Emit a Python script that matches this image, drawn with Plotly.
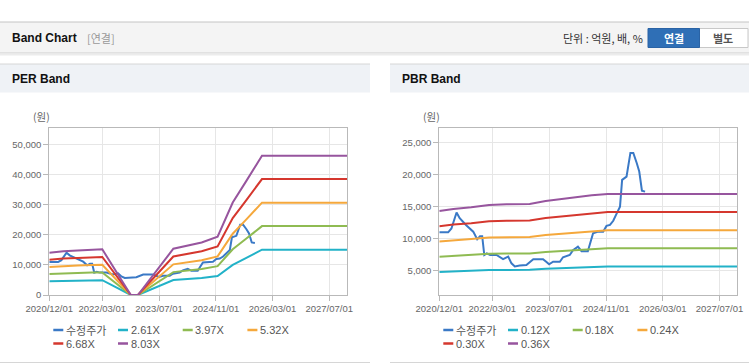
import plotly.graph_objects as go

W, H = 749, 364

# ---------------- data ----------------
price_label = "수정주가"
price_dates = ["2020-12-01", "2021-02-15", "2021-03-15", "2021-04-28", "2021-05-25", "2021-07-20",
               "2021-09-18", "2021-10-22", "2021-11-15", "2021-12-04", "2021-12-22", "2022-01-12",
               "2022-02-10", "2022-04-06", "2022-06-01", "2022-07-15", "2022-08-12", "2022-09-10",
               "2022-10-22", "2022-12-18", "2023-02-15", "2023-03-28", "2023-05-10", "2023-06-06",
               "2023-07-01", "2023-08-04", "2023-10-01", "2023-10-28", "2023-12-25", "2024-01-22",
               "2024-03-04", "2024-04-04", "2024-05-28", "2024-07-12", "2024-08-25", "2024-10-06",
               "2024-11-04", "2024-12-04", "2025-01-01", "2025-02-01", "2025-02-28", "2025-03-18",
               "2025-04-25", "2025-05-28", "2025-06-22", "2025-07-22", "2025-08-12", "2025-09-04",
               "2025-10-01"]
price_values = [11000, 11000, 11600, 14100, 13200, 12100, 11100, 9900, 10400, 10400, 7450, 7700,
                7450, 7450, 6800, 7200, 6150, 5650, 5800, 5900, 6800, 6800, 6800, 6400,
                6000, 6400, 6400, 7100, 7450, 8200, 8750, 8050, 8050, 10850, 11100, 11100,
                12000, 12150, 12800, 14000, 15000, 19200, 19700, 23400, 23400, 21800, 20500, 17500,
                17350]

per_dates = ["2020-12-01", "2021-04-01", "2021-08-01", "2021-12-01", "2022-03-01", "2022-11-01",
             "2023-01-01", "2023-11-01", "2024-03-01", "2024-07-01", "2024-11-15", "2025-03-25",
             "2025-07-20", "2025-10-15", "2025-12-01", "2027-12-01"]
per_eps = [1756, 1818, 1843, 1880, 1893, 0, 0, 1918, 2042, 2179, 2416, 3836, 4732, 5417, 5778, 5778]
per_multiples = [2.61, 3.97, 5.32, 6.68, 8.03]
per_labels = ["2.61X", "3.97X", "5.32X", "6.68X", "8.03X"]

pbr_dates = ["2020-12-01", "2021-04-01", "2021-09-01", "2022-02-01", "2022-07-01", "2023-01-15",
             "2023-06-01", "2023-11-01", "2024-03-01", "2024-07-01", "2024-11-15", "2027-12-01"]
pbr_bps = [39800, 40700, 41400, 42400, 42700, 42800, 44100, 45000, 46000, 46600, 47200, 47200]
pbr_multiples = [0.12, 0.18, 0.24, 0.30, 0.36]
pbr_labels = ["0.12X", "0.18X", "0.24X", "0.30X", "0.36X"]

x_tickvals = ["2020-12-01", "2022-03-01", "2023-07-01", "2024-11-01", "2026-03-01", "2027-07-01"]
x_ticktext = ["2020/12/01", "2022/03/01", "2023/07/01", "2024/11/01", "2026/03/01", "2027/07/01"]
per_yticks = [0, 10000, 20000, 30000, 40000, 50000]
pbr_yticks = [5000, 10000, 15000, 20000, 25000]

price_color = "#3a79c6"
band_colors = ["#22b2c8", "#8fbb52", "#f5a83c", "#d5372e", "#97559e"]

FONT = "Liberation Sans, Noto Sans CJK KR, sans-serif"
KFONT = "Noto Sans CJK KR, Liberation Sans, sans-serif"


def px(x):
    return x / W


def py(y):
    return 1 - y / H


fig = go.Figure()

# ---------------- traces ----------------
panels = [
    ("x", "y", per_dates, per_eps, per_multiples, per_labels),
    ("x2", "y2", pbr_dates, pbr_bps, pbr_multiples, pbr_labels),
]
for xa, ya, dates, base, mults, labels in panels:
    fig.add_trace(go.Scatter(x=price_dates, y=price_values, name=price_label, mode="lines",
                             line=dict(color=price_color, width=2), xaxis=xa, yaxis=ya,
                             showlegend=False))
    for m, lab, col in zip(mults, labels, band_colors):
        fig.add_trace(go.Scatter(x=dates, y=[b * m for b in base], name=lab, mode="lines",
                                 line=dict(color=col, width=2), xaxis=xa, yaxis=ya,
                                 showlegend=False))

# ---------------- axes ----------------
axis_common = dict(showgrid=True, gridcolor="#e6e6e6", gridwidth=1, showline=True,
                   linecolor="#b9b9b9", linewidth=1, mirror=True, ticks="outside", ticklen=5,
                   tickcolor="#b9b9b9", tickfont=dict(family=FONT, size=9.5, color="#666666"),
                   zeroline=False, fixedrange=True, automargin=False)
xdom_left = [px(49.3), px(347)]
xdom_right = [px(439.3), px(737.3)]
ydom = [py(295), py(128)]

fig.update_layout(
    xaxis=dict(domain=xdom_left, type="date", range=["2020-12-01", "2027-12-01"],
               tickmode="array", tickvals=x_tickvals, ticktext=x_ticktext, anchor="y", **axis_common),
    yaxis=dict(domain=ydom, range=[0, 55600], tickmode="array", tickvals=per_yticks,
               tickformat=",", anchor="x", **axis_common),
    xaxis2=dict(domain=xdom_right, type="date", range=["2020-12-01", "2027-12-01"],
                tickmode="array", tickvals=x_tickvals, ticktext=x_ticktext, anchor="y2", **axis_common),
    yaxis2=dict(domain=ydom, range=[1200, 27300], tickmode="array", tickvals=pbr_yticks,
                tickformat=",", anchor="x2", **axis_common),
)

# ---------------- page decoration ----------------
shapes = []
annotations = []


def text(t, x, y, size, color, family=FONT, anchor="left"):
    # annotations carry ~2px of internal padding; compensate so text edge lands on x
    dx = {"left": -2, "right": 2, "center": 0}[anchor]
    annotations.append(dict(text=t, x=px(x + dx), y=py(y), xref="paper", yref="paper",
                            xanchor=anchor, yanchor="middle", showarrow=False,
                            font=dict(family=family, size=size, color=color)))


# top header bar
shapes.append(dict(type="rect", xref="paper", yref="paper", x0=0, x1=1, y0=py(53), y1=py(22),
                   fillcolor="#f4f4f4", line=dict(width=0), layer="below"))
shapes.append(dict(type="line", xref="paper", yref="paper", x0=0, x1=1, y0=py(22), y1=py(22),
                   line=dict(color="#c4c4c4", width=1)))
shapes.append(dict(type="line", xref="paper", yref="paper", x0=0, x1=1, y0=py(53), y1=py(53),
                   line=dict(color="#cfcfcf", width=1)))
shapes.append(dict(type="line", xref="paper", yref="paper", x0=0, x1=1, y0=py(54.5), y1=py(54.5),
                   line=dict(color="#ececec", width=2)))
text("<b>Band Chart</b>", 12, 38, 12, "#111111")
text("[연결]", 87, 38, 11, "#999999", KFONT)
text("단위 : 억원, 배, %", 643, 38, 11, "#333333", KFONT, "right")
# toggle buttons
shapes.append(dict(type="rect", xref="paper", yref="paper", x0=px(699), x1=px(748), y0=py(47.5), y1=py(28.5),
                   fillcolor="#ffffff", line=dict(color="#c8c8c8", width=1)))
shapes.append(dict(type="rect", xref="paper", yref="paper", x0=px(648), x1=px(699.5), y0=py(47.5), y1=py(28.5),
                   fillcolor="#2f6fb6", line=dict(color="#2a63a5", width=1)))
text("<b>연결</b>", 673.5, 38, 11, "#ffffff", KFONT, "center")
text("<b>별도</b>", 723, 38, 11, "#555555", KFONT, "center")

# panels
panel_specs = [(0, 370, "PER Band", 12, 33, 53.3, [price_label] + per_labels),
               (390, 749, "PBR Band", 402, 423, 443.3, [price_label] + pbr_labels)]
legend_colors = [price_color] + band_colors
for x0, x1, title, tx, ux, lx, labels in panel_specs:
    shapes.append(dict(type="rect", xref="paper", yref="paper", x0=px(x0), x1=px(x1), y0=py(92.5), y1=py(64),
                       fillcolor="#eff2f6", line=dict(width=0), layer="below"))
    shapes.append(dict(type="line", xref="paper", yref="paper", x0=px(x0), x1=px(x1), y0=py(64), y1=py(64),
                       line=dict(color="#d6d6d6", width=1)))
    shapes.append(dict(type="line", xref="paper", yref="paper", x0=px(x0), x1=px(x1), y0=py(362.5), y1=py(362.5),
                       line=dict(color="#d6d6d6", width=1)))
    text("<b>%s</b>" % title, tx, 79, 12, "#111111")
    text("(원)", ux, 117, 10.5, "#666666", KFONT)
    # legend (manual, compact swatches)
    for i, (lab, col) in enumerate(zip(labels, legend_colors)):
        row, colidx = divmod(i, 4)
        sx = lx + colidx * 64.7
        sy = 330 + row * 13.5
        shapes.append(dict(type="line", xref="paper", yref="paper", x0=px(sx), x1=px(sx + 10),
                           y0=py(sy), y1=py(sy), line=dict(color=col, width=2.5)))
        text(lab, sx + 12.5, sy, 11, "#555555", FONT if i else KFONT)

fig.update_layout(
    width=W, height=H, margin=dict(l=0, r=0, t=0, b=0, autoexpand=False),
    paper_bgcolor="#ffffff", plot_bgcolor="#ffffff",
    showlegend=False, shapes=shapes, annotations=annotations,
)

fig.write_html("out.html", config={"displayModeBar": False},
               post_script="document.body.style.margin='0';")
